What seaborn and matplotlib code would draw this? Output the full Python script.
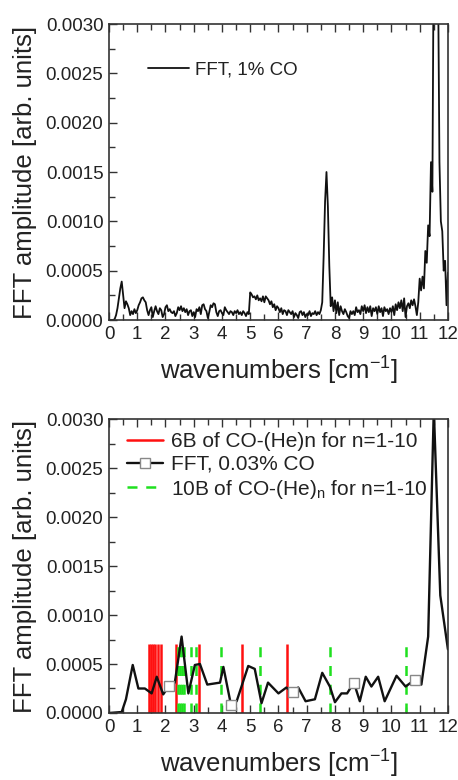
import numpy as np
import pandas as pd
import matplotlib
matplotlib.use("Agg")
import matplotlib.pyplot as plt
from matplotlib.lines import Line2D
from matplotlib.ticker import MultipleLocator, FormatStrFormatter
import seaborn as sns

# ---- data -------------------------------------------------------------
# FFT amplitude of the 1% CO spectrum (units of 1e-4), 0.05 cm^-1 bins from 0 to 12
top_step = 0.05
top_amp = [
    0, 0, 0, 0, 0.1, 0.5, 1.2, 2.2, 3.2, 3.9, 2.6, 1.2, 1.9, 1.6, 1.2, 0.5, 0.9, 0.6, 1.1, 0.7,
    1.0, 1.5, 1.8, 2.2, 2.3, 2.0, 1.8, 1.0, 0.5, 1.0, 1.3, 0.3, 0.9, 1.4, 0.9, 0.6, 1.2, 1.0, 0.3, 0.6,
    1.3, 1.5, 0.9, 1.1, 0.8, 0.7, 0.9, 0.4, 0.7, 1.3, 1.0, 1.4, 0.9, 1.2, 0.8, 1.1, 0.5, 0.9, 1.0, 0.4,
    0.8, 0.3, 1.1, 0.9, 1.3, 0.6, 1.5, 1.6, 1.1, 0.9, 0.2, 0.8, 1.5, 1.3, 1.7, 1.6, 0.8, 0.4, 0.9, 1.0,
    0.7, 0.5, 1.3, 1.0, 0.8, 0.6, 0.9, 0.8, 0.5, 0.9, 0.7, 1.0, 0.6, 0.8, 0.5, 0.9, 0.7, 0.4, 0.8, 0.6,
    2.8, 2.6, 2.3, 2.4, 2.1, 2.5, 2.0, 2.2, 1.9, 2.4, 1.8, 2.4, 2.2, 2.0, 1.6, 1.9, 1.3, 1.6, 1.0, 1.4,
    1.2, 0.8, 1.2, 0.6, 1.0, 0.9, 0.5, 1.0, 0.8, 0.6, 0.9, 0.3, 0.7, 0.5, 0.2, 0.8, 0.9, 0.5, 0.8, 0.3,
    0.6, 0.5, 0.9, 0.4, 0.7, 0.6, 0.9, 0.5, 0.8, 0.6, 1.0, 1.8, 6.5, 12.0, 15.0, 11.5, 5.5, 1.4, 2.3, 0.9,
    2.0, 0.7, 1.8, 0.5, 1.4, 0.9, 0.6, 1.1, 0.8, 0.4, 0.2, 0.9, 0.6, 0.9, 0.5, 1.3, 0.8, 1.0, 0.6, 1.4,
    0.9, 1.5, 0.7, 1.3, 0.8, 1.4, 0.4, 1.2, 0.9, 1.3, 0.6, 1.4, 0.8, 1.2, 0.4, 1.3, 0.9, 1.1, 0.6, 1.2,
    0.8, 1.4, 0.5, 1.6, 1.0, 1.8, 1.2, 2.0, 0.9, 2.2, 0.3, 1.4, 1.7, 1.2, 2.0, 1.5, 2.1, 1.4, 0.5, 1.8,
    4.2, 3.0, 4.4, 3.2, 7.0, 5.8, 9.6, 8.5, 16.0, 13.0, 40.0, 50.0, 45.0, 35.0, 16.0, 10.0, 9.0, 5.0, 6.0, 1.5, 4.8,
]

# FFT amplitude of the 0.03% CO spectrum (units of 1e-4)
bot_wn = [0.0, 0.45, 0.6, 0.84, 1.04, 1.27, 1.51, 1.69, 1.92, 2.13, 2.33, 2.57, 2.81, 3.04,
          3.22, 3.48, 3.93, 4.05, 4.32, 4.52, 4.93, 5.16, 5.4, 5.63, 6.0, 6.28, 6.5, 6.7,
          6.96, 7.29, 7.55, 7.82, 8.0, 8.23, 8.43, 8.67, 8.88, 9.09, 9.29, 9.53, 9.76,
          10.18, 10.5, 10.83, 11.06, 11.3, 11.5, 11.73, 12.0]
bot_amp = [0, 0.1, 1.4, 4.9, 2.5, 2.5, 2.0, 3.7, 1.9, 2.8, 3.1, 7.8, 2.0, 4.9, 5.0, 2.9,
           3.1, 4.7, 0.8, 1.2, 4.8, 4.5, 1.0, 3.1, 2.0, 2.6, 2.1, 2.6, 1.2, 1.4, 4.1, 2.7,
           1.1, 2.0, 2.0, 3.1, 1.2, 3.7, 2.7, 3.7, 1.2, 3.8, 2.7, 3.4, 2.9, 7.8, 31.0, 12.0, 6.5]
bot_marker_idx = [9, 18, 26, 35, 43]

# calculated transitions of CO-(He)n, n = 1-10 (cm^-1)
lines_6B = [1.42, 1.48, 1.55, 1.62, 1.72, 1.84, 2.37, 3.20, 4.72, 6.31]
lines_10B = [2.43, 2.50, 2.58, 2.65, 2.90, 3.07, 3.97, 5.36, 7.84, 10.50]
line_height = 0.0007

top_label = "FFT, 1% CO"
bot_labels = ["6B of CO-(He)n for n=1-10", "FFT, 0.03% CO",
              "10B of CO-(He)$_{n}$ for n=1-10"]
x_label = "wavenumbers [cm$^{-1}$]"
y_label = "FFT amplitude [arb. units]"

# ---- style ------------------------------------------------------------
sns.set_theme(style="ticks")
plt.rcParams["font.family"] = ["Liberation Sans", "DejaVu Sans"]
plt.rcParams["mathtext.fontset"] = "custom"
plt.rcParams["mathtext.rm"] = "Liberation Sans"
plt.rcParams["mathtext.default"] = "regular"
text_color = "#222222"
red = "#ff1010"
green = "#1fe01f"

top_df = pd.DataFrame({
    "wn": np.arange(len(top_amp)) * top_step,
    "amp": np.array(top_amp) * 1e-4,
})
bot_df = pd.DataFrame({"wn": bot_wn, "amp": np.array(bot_amp) * 1e-4})

fig = plt.figure(figsize=(4.58, 7.80), dpi=100)
ax_top = fig.add_axes([0.238, 0.5897, 0.740, 0.3795])
ax_bot = fig.add_axes([0.238, 0.0859, 0.740, 0.3769])


def style_axes(ax):
    ax.set_xlim(0, 12)
    ax.set_ylim(0, 0.003)
    ax.xaxis.set_major_locator(MultipleLocator(1))
    ax.xaxis.set_minor_locator(MultipleLocator(0.5))
    ax.yaxis.set_major_locator(MultipleLocator(0.0005))
    ax.yaxis.set_minor_locator(MultipleLocator(0.00025))
    ax.yaxis.set_major_formatter(FormatStrFormatter("%.4f"))
    ax.tick_params(which="both", direction="in", top=True, right=False,
                   width=1.0, colors="#333333", labelcolor=text_color,
                   labelsize=13.5)
    ax.tick_params(which="major", length=6, pad=4)
    ax.tick_params(which="minor", length=4)
    for s in ax.spines.values():
        s.set_visible(True)
        s.set_linewidth(1.2)
        s.set_color("#333333")
    ax.set_xlabel(x_label, fontsize=18.5, color=text_color, labelpad=9)
    ax.set_ylabel(y_label, fontsize=18.5, color=text_color, labelpad=6)


# top panel
sns.lineplot(data=top_df, x="wn", y="amp", ax=ax_top, color="#111111",
             linewidth=1.3, sort=False, estimator=None)
style_axes(ax_top)
ax_top.legend(handles=[Line2D([], [], color="#111111", lw=1.3)],
              labels=[top_label], loc="upper left",
              bbox_to_anchor=(0.115, 0.875), frameon=False, fontsize=13.5,
              handlelength=2.2, handletextpad=0.3, borderpad=0,
              borderaxespad=0, labelcolor=text_color)

# bottom panel
ax_bot.vlines(lines_6B, 0, line_height, colors=red, linewidth=1.8)
ax_bot.vlines(lines_10B, 0, line_height, colors=green, linewidth=1.8,
              linestyles=(0, (4, 3.5)))
sns.lineplot(data=bot_df, x="wn", y="amp", ax=ax_bot, color="#111111",
             linewidth=1.7, sort=False, estimator=None, marker="s",
             markevery=bot_marker_idx, markersize=7, markerfacecolor="white",
             markeredgecolor="#888888", markeredgewidth=1.0)
style_axes(ax_bot)

handles = [
    Line2D([], [], color=red, lw=1.8),
    Line2D([], [], color="#111111", lw=1.7, marker="s", markersize=7,
           markerfacecolor="white", markeredgecolor="#888888"),
    Line2D([], [], color=green, lw=1.8, linestyle=(0, (4, 3.5))),
]
ax_bot.legend(handles=handles, labels=bot_labels, loc="upper left",
              bbox_to_anchor=(0.053, 0.955), frameon=False, fontsize=15,
              handlelength=1.75, handletextpad=0.35, borderpad=0,
              borderaxespad=0, labelspacing=0.18, labelcolor=text_color)

fig.savefig("out.png", dpi=100, facecolor="white")
